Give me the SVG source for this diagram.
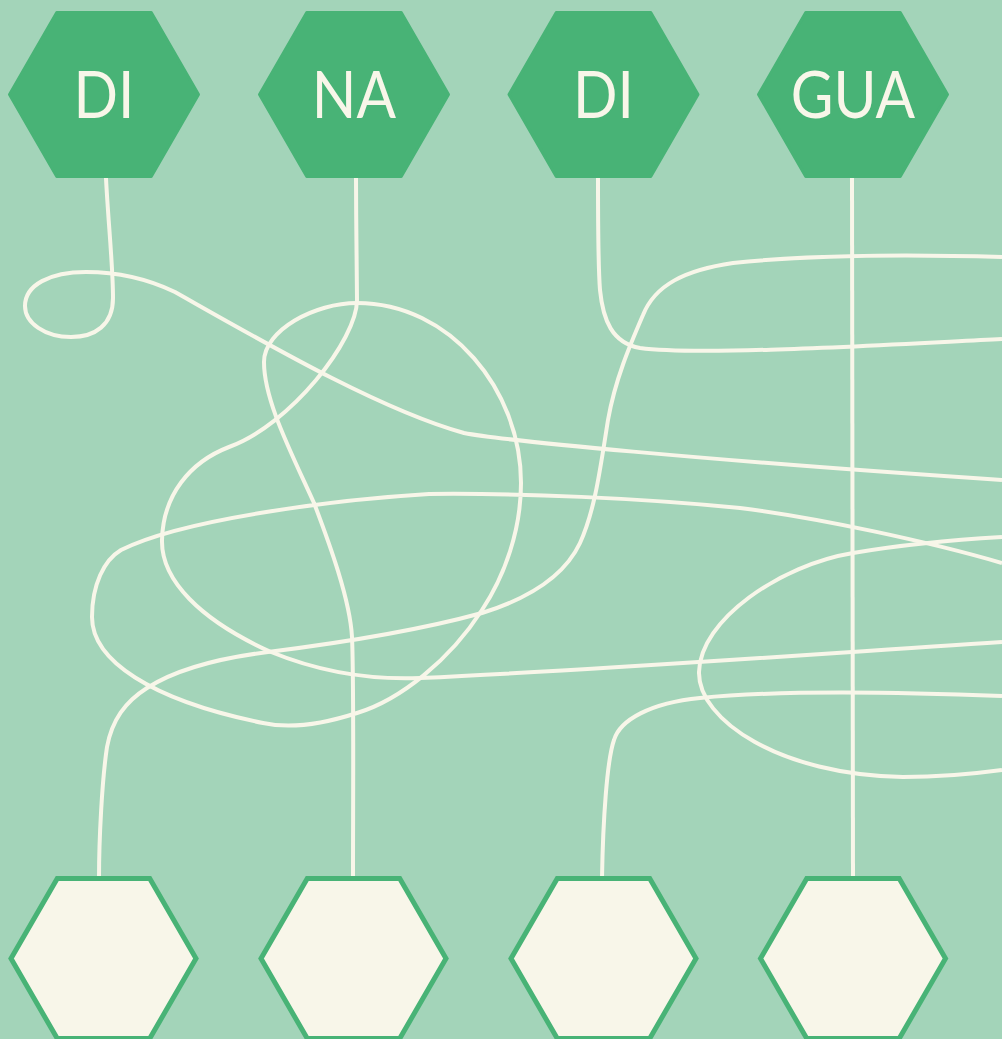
<svg xmlns="http://www.w3.org/2000/svg" width="1002" height="1039" viewBox="0 0 1002 1039">
<style>
.bg{fill:#A3D4B9}
.top{fill:#48B376;stroke:#48B376;stroke-width:3;stroke-linejoin:round}
.bot{fill:#F8F6E9;stroke:#48B376;stroke-width:5;stroke-linejoin:miter}
.lbl{font-family:Lato,"Noto Sans",Inter,sans-serif;font-size:65px;fill:#F8F6E9;text-anchor:middle}
.wire{fill:none;stroke:#F8F6E9;stroke-width:4;stroke-linecap:butt;stroke-linejoin:round}
</style>
<defs>
<polygon id="hexT" points="-94.5,0 -47.25,-82 47.25,-82 94.5,0 47.25,82 -47.25,82"/>
<polygon id="hexB" points="-92.5,0 -46.25,-80 46.25,-80 92.5,0 46.25,80 -46.25,80"/>
</defs>
<rect class="bg" x="0" y="0" width="1002" height="1039"/>
<g id="connectors">
<path class="wire" d="M106,178 C108,220 113,265 113,298 C113,325 95,337 71,337 C45,337 25,323 25,306 C25,285 50,272 86,272 C120,272 150,280 175,292 C260,340 380,410 464,433 C500,440 700,460 1002,480"/>
<path class="wire" d="M356,178 C356,220 357,270 357,300 C357,340 290,425 229,447 C190,462 163,495 162,540 C161,580 200,620 271,652 C320,672 370,680 420,678 C600,670 800,655 1002,642"/>
<path class="wire" d="M1002,563 C930,542 820,518 740,508 C640,498 520,493 429,494 C330,500 180,520 121,550 C104,560 92,585 92,617 C92,660 150,700 263,723 C290,729 320,725 357,713 C400,700 450,660 482,610 C505,575 521,530 521,483 C521,390 450,303 357,303 C315,303 264,330 264,362 C264,400 290,450 314,503 C330,545 350,600 352,637 C354,680 353,800 353,878"/>
<path class="wire" d="M598,178 C598,220 598,265 600,290 C603,320 612,343 640,348 C700,356 880,345 1002,339"/>
<path class="wire" d="M1002,257 C900,254 800,256 733,263 C685,270 655,285 643,315 C630,345 615,380 608,420 C600,470 595,510 580,543 C565,575 530,598 482,613 C420,630 340,643 268,652 C220,658 175,670 147,688 C125,702 112,720 107,747 C102,780 99,840 99,878"/>
<path class="wire" d="M602,878 C603,820 607,760 614,740 C620,720 650,703 700,698 C780,690 900,692 1002,696"/>
<path class="wire" d="M852,178 L853,878"/>
<path class="wire" d="M1002,537 C950,540 900,545 853,553 C780,565 700,620 699,672 C698,720 780,775 903,777 C940,777 980,773 1002,770"/>
</g>
<g id="top-1"><use href="#hexT" class="top" x="104" y="94.5"/><text class="lbl" transform="translate(104,118) scale(0.9,1)">DI</text></g>
<g id="top-2"><use href="#hexT" class="top" x="354" y="94.5"/><text class="lbl" transform="translate(354,118) scale(0.9,1)">NA</text></g>
<g id="top-3"><use href="#hexT" class="top" x="603.5" y="94.5"/><text class="lbl" transform="translate(603.5,118) scale(0.9,1)">DI</text></g>
<g id="top-4"><use href="#hexT" class="top" x="853" y="94.5"/><text class="lbl" transform="translate(853,118) scale(0.9,1)">GUA</text></g>
<g id="bottom-1"><use href="#hexB" class="bot" x="103.5" y="958.5"/></g>
<g id="bottom-2"><use href="#hexB" class="bot" x="353.5" y="958.5"/></g>
<g id="bottom-3"><use href="#hexB" class="bot" x="603.5" y="958.5"/></g>
<g id="bottom-4"><use href="#hexB" class="bot" x="853" y="958.5"/></g>
</svg>
